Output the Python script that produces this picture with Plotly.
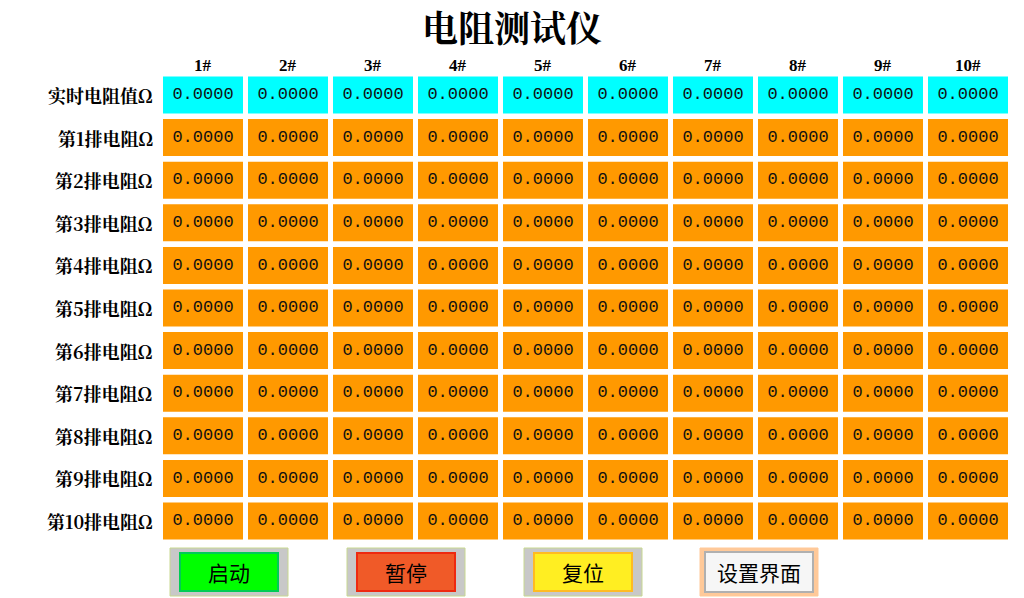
import plotly.graph_objects as go

title = "电阻测试仪"
columns = ["1#", "2#", "3#", "4#", "5#", "6#", "7#", "8#", "9#", "10#"]
row_labels = ["实时电阻值Ω"] + [f"第{i}排电阻Ω" for i in range(1, 11)]
values = [[0.0 for _ in columns] for _ in row_labels]
buttons = ["启动", "暂停", "复位", "设置界面"]
button_colors = [("#00ff00", "#00cc55"), ("#f05a28", "#ee2a10"), ("#ffee22", "#ffbb22"), ("#f6f6f6", "#dcdcdc")]

OFF = 8
W, H = 1024 - OFF, 598 - OFF
X0, DX = 203 - OFF, 85
Y0, DY = 95 - OFF, 42.6
xr = [-X0 / DX, (W - X0) / DX]
yr = [(H - Y0) / DY, -Y0 / DY]
def px2x(p): return (p - OFF - X0) / DX
def py2y(p): return (p - OFF - Y0) / DY

fig = go.Figure()
shapes, ann = [], []
cw, ch = 80 / DX, 37 / DY
xs, ys, txt = [], [], []
for r, lab in enumerate(row_labels):
    col = "#00ffff" if r == 0 else "#ff9900"
    for c, _ in enumerate(columns):
        shapes.append(dict(type="rect", xref="x", yref="y", x0=c - cw / 2, x1=c + cw / 2,
                           y0=r - ch / 2, y1=r + ch / 2, fillcolor=col, line=dict(width=0), layer="below"))
        xs.append(c); ys.append(r); txt.append(f"{values[r][c]:.4f}")
    ann.append(dict(x=px2x(155), y=r, xref="x", yref="y", text=f"<b>{lab}</b>", showarrow=False,
                    xanchor="right", font=dict(size=18, color="black", family="Noto Serif CJK SC, Liberation Serif")))
fig.add_trace(go.Scatter(x=xs, y=ys, mode="text", text=txt, hoverinfo="skip",
                         textfont=dict(size=17, color="#111", family="Liberation Mono, DejaVu Sans Mono")))
for c, name in enumerate(columns):
    ann.append(dict(x=c, y=py2y(65), xref="x", yref="y", text=f"<b>{name}</b>", showarrow=False,
                    font=dict(size=17, color="black", family="Liberation Serif")))
ann.append(dict(x=px2x(512), y=py2y(26), xref="x", yref="y", text=f"<b>{title}</b>", showarrow=False,
                font=dict(size=36, color="black", family="Noto Serif CJK SC, Noto Sans CJK SC")))

bx = [170, 347, 524, 700]
for i, (b, (c1, c2)) in enumerate(zip(buttons, button_colors)):
    l = bx[i]; r_ = l + 118
    outer = "#ffc999" if i == 3 else "#c8c8c8"
    shapes.append(dict(type="rect", xref="x", yref="y", x0=px2x(l), x1=px2x(r_), y0=py2y(548), y1=py2y(596),
                       fillcolor=outer, line=dict(color="#c8d890" if i < 3 else outer, width=1)))
    if i == 3:
        shapes.append(dict(type="rect", xref="x", yref="y", x0=px2x(l + 5), x1=px2x(r_ - 5), y0=py2y(552), y1=py2y(592),
                           fillcolor=c1, line=dict(color="#b0b0b0", width=2)))
    else:
        shapes.append(dict(type="rect", xref="x", yref="y", x0=px2x(l + 10), x1=px2x(r_ - 10), y0=py2y(553), y1=py2y(591),
                           fillcolor=c1, line=dict(color=c2, width=2)))
    ann.append(dict(x=px2x((l + r_) / 2), y=py2y(572), xref="x", yref="y", text=b, showarrow=False,
                    font=dict(size=21, color="black", family="Noto Sans CJK SC")))

fig.update_layout(width=W, height=H, margin=dict(l=0, r=0, t=0, b=0), paper_bgcolor="white", plot_bgcolor="white",
                  xaxis=dict(range=xr, visible=False, fixedrange=True), yaxis=dict(range=yr, visible=False, fixedrange=True),
                  shapes=shapes, annotations=ann, showlegend=False)
fig.write_html("out.html", config={"displayModeBar": False})
